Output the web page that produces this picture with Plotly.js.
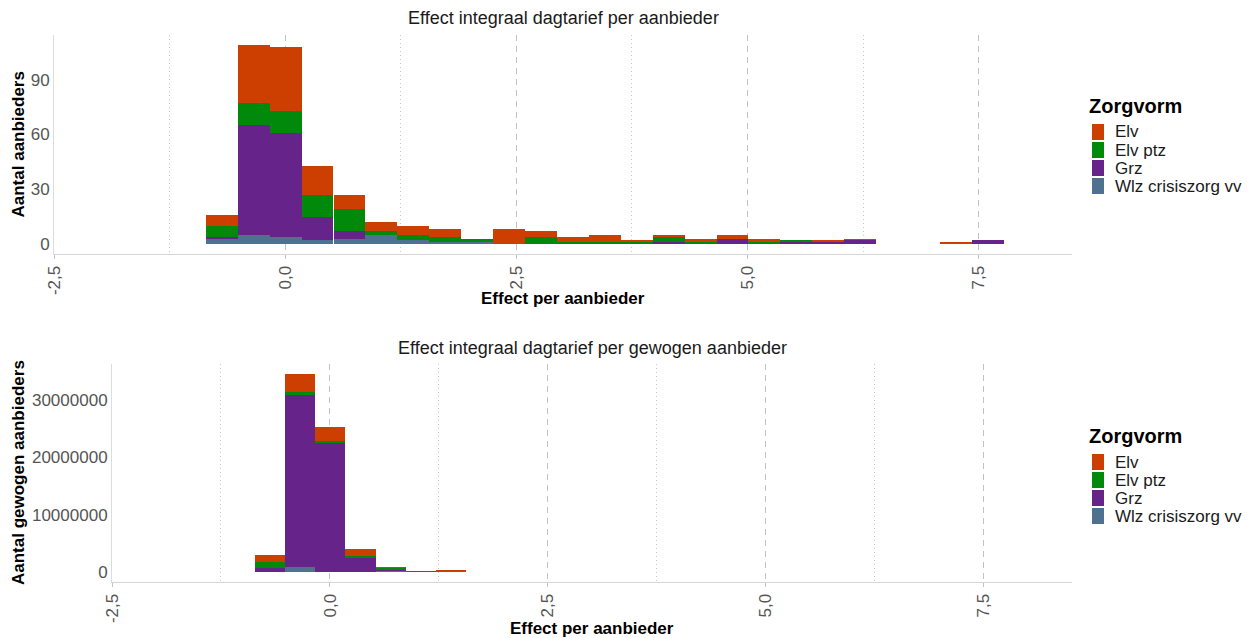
<!DOCTYPE html>
<html>
<head>
<meta charset="utf-8">
<script src="https://cdn.plot.ly/plotly-3.0.1.min.js"></script>
<style>html,body{margin:0;padding:0;background:#fff;}#chart{width:1252px;height:638px;}</style>
</head>
<body>
<div id="chart"></div>
<script>
// Bin centres (Effect per aanbieder)
const binCenters = [-0.685, -0.340, 0.005, 0.350, 0.696, 1.041, 1.386, 1.731, 2.076, 2.421,
                    2.767, 3.112, 3.457, 3.802, 4.148, 4.493, 4.838, 5.183, 5.528, 5.873,
                    6.219, 6.564, 6.909, 7.254, 7.600];
const series = ["Wlz crisiszorg vv", "Grz", "Elv ptz", "Elv"];
const legendOrder = ["Elv", "Elv ptz", "Grz", "Wlz crisiszorg vv"];

// Top: Aantal aanbieders
const topWlz    = [3, 5, 4, 2, 3, 5, 2, 1, 1, 0, 0, 0, 0, 0, 0, 0, 0, 0, 0, 0, 0, 0, 0, 0, 0];
const topGrz    = [1, 60, 57, 13, 4, 0, 0, 0, 0, 0, 0, 0, 0, 0, 1, 0, 3, 0, 1, 1, 2, 0, 0, 0, 2];
const topElvPtz = [6, 12, 12, 12, 12, 2, 3, 3, 2, 0, 4, 1, 1, 1, 3, 1, 0, 1, 1, 0, 0, 0, 0, 0, 0];
const topElv    = [6, 32, 35, 16, 8, 5, 5, 4, 0, 8, 3, 3, 4, 1, 1, 2, 2, 2, 0, 1, 1, 0, 0, 1, 0];

// Bottom: Aantal gewogen aanbieders
const botWlz    = [100000, 820000, 100000, 50000, 150000, 100000, 0, 0, 20000, 0, 0, 0, 0, 0, 0, 0, 0, 0, 0, 0, 0, 0, 0, 0, 0];
const botGrz    = [550000, 29950000, 22400000, 2330000, 200000, 0, 0, 0, 0, 0, 0, 0, 0, 0, 10000, 10000, 20000, 0, 10000, 10000, 60000, 0, 0, 0, 90000];
const botElvPtz = [1040000, 570000, 400000, 400000, 350000, 120000, 50000, 0, 10000, 0, 10000, 0, 20000, 0, 20000, 0, 0, 10000, 10000, 0, 0, 0, 0, 0, 0];
const botElv    = [1210000, 3170000, 2320000, 1270000, 200000, 0, 320000, 40000, 0, 80000, 40000, 20000, 10000, 5000, 5000, 20000, 10000, 10000, 0, 20000, 10000, 0, 0, 30000, 0];

const xTickVals = [-2.5, 0, 2.5, 5, 7.5];
const xTickText = ["-2,5", "0,0", "2,5", "5,0", "7,5"];
const xMinorVals = [-1.25, 1.25, 3.75, 6.25];
const yTopVals = [0, 30, 60, 90];
const yBotVals = [0, 10000000, 20000000, 30000000];
const yBotText = ["0", "10000000", "20000000", "30000000"];

const colors = {"Elv": "#CD3F00", "Elv ptz": "#00890B", "Grz": "#66238A", "Wlz crisiszorg vv": "#4E7190"};
const binWidth = 0.3452;

const topData = [topWlz, topGrz, topElvPtz, topElv];
const botData = [botWlz, botGrz, botElvPtz, botElv];

const traces = [];
series.forEach((name, i) => {
  traces.push({type: "bar", x: binCenters, y: topData[i], width: binWidth, name: name, showlegend: false,
    marker: {color: colors[name], line: {width: 0}}, xaxis: "x", yaxis: "y", hoverinfo: "skip"});
});
series.forEach((name, i) => {
  traces.push({type: "bar", x: binCenters, y: botData[i], width: binWidth, name: name, showlegend: false,
    marker: {color: colors[name], line: {width: 0}}, xaxis: "x2", yaxis: "y2", hoverinfo: "skip"});
});

const W = 1252, H = 638;
const px = v => v / W, py = v => 1 - v / H;
const FONT = "Liberation Sans, Arial, Helvetica, sans-serif";

const xCommon = {
  range: [-2.5, 8.51], tickmode: "array", tickvals: xTickVals, ticktext: xTickText, tickangle: -90,
  showgrid: true, gridcolor: "#c2c2c2", griddash: "6px,5px", gridwidth: 1,
  minor: {tickmode: "array", tickvals: xMinorVals, showgrid: true, gridcolor: "#c8c8c8", griddash: "1px,3px", gridwidth: 1},
  showline: true, linecolor: "#d6d6d6", linewidth: 1, ticks: "outside", ticklen: 4, tickcolor: "#c2c2c2",
  tickfont: {size: 17, color: "#555555"}, zeroline: false, fixedrange: true
};
const yCommon = {
  showgrid: false, zeroline: false, showline: true, linecolor: "#dcdcdc", linewidth: 1, ticks: "",
  tickfont: {size: 17, color: "#555555"}, fixedrange: true
};

const topMax = 109, botMax = 34510000;

// Custom legends (Zorgvorm) built from series names & colours
const shapes = [];
const annotations = [
  {text: "Effect integraal dagtarief per aanbieder", xref: "paper", yref: "paper", x: px(563), y: py(18),
    xanchor: "center", yanchor: "middle", showarrow: false, font: {size: 18, color: "#1a1a1a"}},
  {text: "Effect integraal dagtarief per gewogen aanbieder", xref: "paper", yref: "paper", x: px(592), y: py(348),
    xanchor: "center", yanchor: "middle", showarrow: false, font: {size: 18, color: "#1a1a1a"}},
  {text: "Aantal aanbieders", xref: "paper", yref: "paper", x: px(18), y: py(144.5), textangle: -90,
    xanchor: "center", yanchor: "middle", showarrow: false, font: {size: 17, weight: "bold", color: "#000000"}},
  {text: "Aantal gewogen aanbieders", xref: "paper", yref: "paper", x: px(18), y: py(473), textangle: -90,
    xanchor: "center", yanchor: "middle", showarrow: false, font: {size: 17, weight: "bold", color: "#000000"}},
  {text: "Effect per aanbieder", xref: "paper", yref: "paper", x: px(563), y: py(298),
    xanchor: "center", yanchor: "middle", showarrow: false, font: {size: 17, weight: "bold", color: "#000000"}},
  {text: "Effect per aanbieder", xref: "paper", yref: "paper", x: px(592), y: py(628),
    xanchor: "center", yanchor: "middle", showarrow: false, font: {size: 17, weight: "bold", color: "#000000"}}
];
[[106, 132], [436, 462]].forEach(([titleY, firstY]) => {
  annotations.push({text: "Zorgvorm", xref: "paper", yref: "paper", x: px(1087), y: py(titleY),
    xanchor: "left", yanchor: "middle", showarrow: false, font: {size: 20, weight: "bold", color: "#000000"}});
  legendOrder.forEach((name, i) => {
    const cy = firstY + i * 18;
    shapes.push({type: "rect", xref: "paper", yref: "paper", x0: px(1092), x1: px(1104),
      y0: py(cy + 8), y1: py(cy - 8), fillcolor: colors[name], line: {width: 0}});
    annotations.push({text: name, xref: "paper", yref: "paper", x: px(1113), y: py(cy),
      xanchor: "left", yanchor: "middle", showarrow: false, font: {size: 17, color: "#1a1a1a"}});
  });
});

const layout = {
  width: W, height: H, margin: {l: 0, r: 0, t: 0, b: 0},
  paper_bgcolor: "#ffffff", plot_bgcolor: "#ffffff",
  font: {family: FONT, color: "#1a1a1a"},
  barmode: "stack", bargap: 0, showlegend: false,
  xaxis: Object.assign({}, xCommon, {domain: [px(54), px(1072)], anchor: "y"}),
  yaxis: Object.assign({}, yCommon, {domain: [py(254), py(35)], anchor: "x",
    range: [-topMax * 0.05, topMax * 1.05], tickvals: yTopVals}),
  xaxis2: Object.assign({}, xCommon, {domain: [px(112), px(1072)], anchor: "y2"}),
  yaxis2: Object.assign({}, yCommon, {domain: [py(582), py(364)], anchor: "x2",
    range: [-botMax * 0.05, botMax * 1.05], tickvals: yBotVals, ticktext: yBotText}),
  shapes: shapes,
  annotations: annotations
};

Plotly.newPlot("chart", traces, layout, {displayModeBar: false, staticPlot: true});
</script>
</body>
</html>
